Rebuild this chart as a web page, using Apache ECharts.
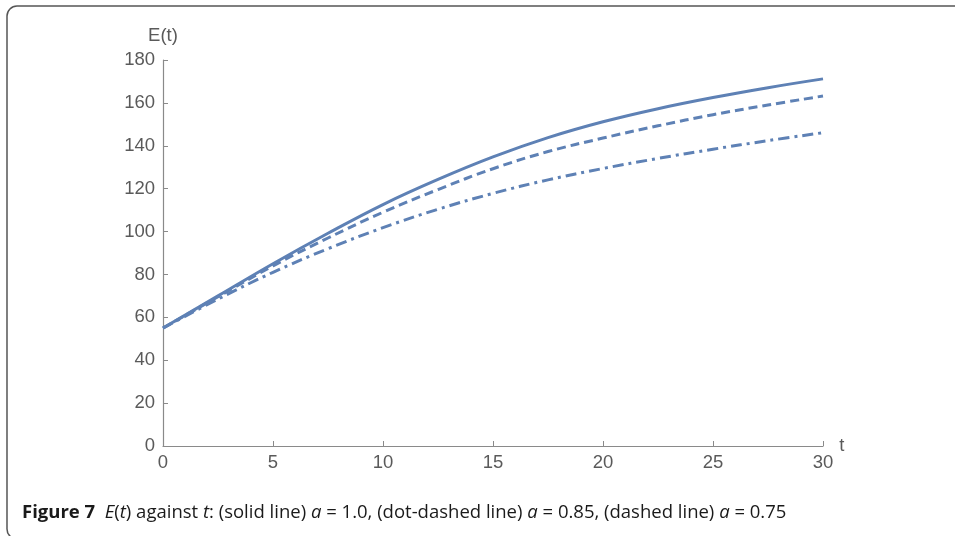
<!DOCTYPE html>
<html>
<head>
<meta charset="utf-8">
<script src="https://cdn.jsdelivr.net/npm/echarts@6/dist/echarts.min.js"></script>
<style>
  html, body { margin: 0; padding: 0; background: #fff; }
  #chart { width: 955px; height: 536px; }
</style>
</head>
<body>
<div id="chart"></div>
<script>
// t values and E(t)
const tValues = [0, 2.5, 5, 7.5, 10, 12.5, 15, 17.5, 20, 22.5, 25, 27.5, 30]
const solidA10 = [55, 70, 85, 99.2, 112.6, 124.3, 134.8, 143.8, 151.2, 157.3, 162.5, 167.1, 171.2]
const dashedA075 = [55, 69.6, 84, 97, 109, 119.6, 129.3, 137.3, 143.6, 149.3, 154.5, 159, 163.2]
const dotDashA085 = [55, 68.5, 81, 92, 101.8, 110.4, 117.8, 124.1, 129.4, 134.1, 138.4, 142.4, 146.1]
const xTicks = [0, 5, 10, 15, 20, 25, 30]
const yTicks = [0, 20, 40, 60, 80, 100, 120, 140, 160, 180]

const lineColor = '#5e81b5'
const axisColor = '#8a8a8a'
const labelColor = '#5a5a5a'
const labelFont = 'Liberation Sans'

function pairs(ys){
  return tValues.map((t, i) => [t, ys[i]])
}

function makeSeries(name, ys, dash){
  return {
    name: name,
    type: 'line',
    data: pairs(ys),
    smooth: 0.4,
    showSymbol: false,
    lineStyle: { color: lineColor, width: 3, type: dash }
  }
}

const chart = echarts.init(document.getElementById('chart'), null, { renderer: 'canvas' })

const option = {
  animation: false,
  grid: { left: 163, right: 132, top: 60, bottom: 90, containLabel: false },
  xAxis: {
    type: 'value',
    min: xTicks[0],
    max: xTicks[xTicks.length - 1],
    interval: xTicks[1] - xTicks[0],
    name: 't',
    nameLocation: 'end',
    nameGap: 16,
    nameTextStyle: { color: labelColor, fontSize: 18.5, fontFamily: labelFont, verticalAlign: 'middle', padding: [4, 0, 0, 0] },
    axisLine: { lineStyle: { color: axisColor, width: 1.2 } },
    axisTick: { inside: true, length: 5, lineStyle: { color: axisColor } },
    axisLabel: { color: labelColor, fontSize: 18.5, fontFamily: labelFont, margin: 7 },
    splitLine: { show: false }
  },
  yAxis: {
    type: 'value',
    min: yTicks[0],
    max: yTicks[yTicks.length - 1],
    interval: yTicks[1] - yTicks[0],
    name: 'E(t)',
    nameLocation: 'end',
    nameGap: 15,
    nameTextStyle: { color: labelColor, fontSize: 18.5, fontFamily: labelFont, align: 'center' },
    axisLine: { show: true, lineStyle: { color: axisColor, width: 1.2 } },
    axisTick: { show: true, inside: true, length: 5, lineStyle: { color: axisColor } },
    axisLabel: { color: labelColor, fontSize: 18.5, fontFamily: labelFont, margin: 8 },
    splitLine: { show: false }
  },
  series: [
    makeSeries('a = 1.0', solidA10, 'solid'),
    makeSeries('a = 0.75', dashedA075, [9, 5]),
    makeSeries('a = 0.85', dotDashA085, [11, 5, 3, 5])
  ],
  graphic: [
    {
      // page frame
      type: 'rect',
      silent: true,
      shape: { x: 7, y: 6, width: 1000, height: 533, r: 10 },
      style: { fill: 'none', stroke: '#555', lineWidth: 1.5 }
    },
    {
      type: 'text',
      left: 22,
      top: 503,
      style: {
        text: '{b|Figure 7}  {i|E}({i|t}) against {i|t}: (solid line) {i|a} = 1.0, (dot-dashed line) {i|a} = 0.85, (dashed line) {i|a} = 0.75',
        fill: '#1a1a1a',
        fontSize: 18.5,
        fontFamily: 'Open Sans',
        rich: {
          b: { fontWeight: 'bold', fontSize: 18.5, fontFamily: 'Open Sans', fill: '#1a1a1a' },
          i: { fontStyle: 'italic', fontSize: 18.5, fontFamily: 'Open Sans', fill: '#1a1a1a' }
        }
      }
    }
  ]
}

chart.setOption(option)
</script>
</body>
</html>
